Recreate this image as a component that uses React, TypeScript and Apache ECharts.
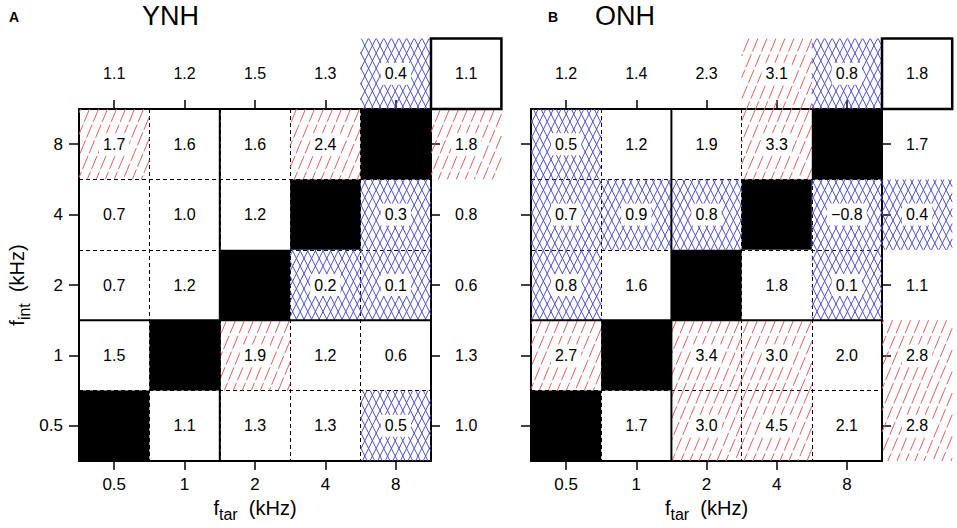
import React, { useEffect, useRef } from "react";
import * as echarts from "echarts";

const FONT = "'Liberation Sans', Arial, Helvetica, sans-serif";

// f_tar (columns, left→right) and f_int (rows, bottom→top) categories in kHz
const xCats = ["0.5", "1", "2", "4", "8"];
const yCats = ["0.5", "1", "2", "4", "8"];

// Values listed row by row from the top row (f_int = 8) down to 0.5; null = diagonal (black cell)
const ynhValues: (number | null)[][] = [
  [1.7, 1.6, 1.6, 2.4, null],
  [0.7, 1.0, 1.2, null, 0.3],
  [0.7, 1.2, null, 0.2, 0.1],
  [1.5, null, 1.9, 1.2, 0.6],
  [null, 1.1, 1.3, 1.3, 0.5],
];
// R = red (increase) hatching, B = blue (decrease) cross-hatching, . = none
const ynhHatch = ["R..R.", "....B", "...BB", "..R..", "....B"];
const ynhTop = [1.1, 1.2, 1.5, 1.3, 0.4];
const ynhTopHatch = "....B";
const ynhRight = [1.8, 0.8, 0.6, 1.3, 1.0];
const ynhRightHatch = "R....";
const ynhCorner = 1.1;

const onhValues: (number | null)[][] = [
  [0.5, 1.2, 1.9, 3.3, null],
  [0.7, 0.9, 0.8, null, -0.8],
  [0.8, 1.6, null, 1.8, 0.1],
  [2.7, null, 3.4, 3.0, 2.0],
  [null, 1.7, 3.0, 4.5, 2.1],
];
const onhHatch = ["B..R.", "BBB.B", "B...B", "R.RR.", "..RR."];
const onhTop = [1.2, 1.4, 2.3, 3.1, 0.8];
const onhTopHatch = "...RB";
const onhRight = [1.7, 0.4, 1.1, 2.8, 2.8];
const onhRightHatch = ".B.RR";
const onhCorner = 1.8;

const codeOf = (c: string) => (c === "R" ? 1 : c === "B" ? 2 : 0);

// item: [xIdx(clamped), yIdx(clamped), realX, realY, value, code]
// code: 0 plain, 1 red hatch, 2 blue cross-hatch, 3 black, 4 boxed corner
function buildData(
  values: (number | null)[][],
  hatch: string[],
  top: number[],
  topHatch: string,
  right: number[],
  rightHatch: string,
  corner: number
) {
  const out: number[][] = [];
  const n = yCats.length;
  for (let r = 0; r < n; r++) {
    const yi = n - 1 - r;
    for (let xi = 0; xi < xCats.length; xi++) {
      const v = values[r][xi];
      if (v === null) out.push([xi, yi, xi, yi, 0, 3]);
      else out.push([xi, yi, xi, yi, v, codeOf(hatch[r][xi])]);
    }
    out.push([4, yi, 5, yi, right[r], codeOf(rightHatch[r])]);
  }
  for (let xi = 0; xi < xCats.length; xi++) {
    out.push([xi, 4, xi, 5, top[xi], codeOf(topHatch[xi])]);
  }
  out.push([4, 4, 5, 5, corner, 4]);
  return out;
}

const RED = "#de5f5f";
const BLUE = "#5252c8";

function hatchLines(
  x0: number, y0: number, x1: number, y1: number,
  k: number, s: number, dir: 1 | -1, color: string, dash?: number[]
) {
  // dir 1: "/" lines, x + y/k = u ; dir -1: "\" lines, x - y/k = u
  const els: any[] = [];
  const us = dir === 1 ? [x0 + y0 / k, x1 + y1 / k] : [x0 - y1 / k, x1 - y0 / k];
  const nStart = Math.ceil(us[0] / s);
  const nEnd = Math.floor(us[1] / s);
  for (let m = nStart; m <= nEnd; m++) {
    const u = m * s;
    let ya: number, yb: number;
    if (dir === 1) {
      ya = Math.max(y0, (u - x1) * k);
      yb = Math.min(y1, (u - x0) * k);
    } else {
      ya = Math.max(y0, (x0 - u) * k);
      yb = Math.min(y1, (x1 - u) * k);
    }
    if (yb - ya < 0.5) continue;
    const xa = dir === 1 ? u - ya / k : u + ya / k;
    const xb = dir === 1 ? u - yb / k : u + yb / k;
    els.push({
      type: "line",
      z2: 1,
      shape: { x1: xa, y1: ya, x2: xb, y2: yb },
      style: { stroke: color, lineWidth: 1, lineDash: dash || null },
    });
  }
  return els;
}

function fmt(v: number) {
  const s = Math.abs(v).toFixed(1);
  return v < 0 ? "\u2212" + s : s;
}

function renderItem(params: any, api: any) {
  const rx = api.value(2);
  const ry = api.value(3);
  const val = api.value(4);
  const code = api.value(5);
  const base = api.coord([0, 0]);
  const size = api.size([1, 1]);
  const w = size[0];
  const h = size[1];
  const cx = base[0] + rx * w;
  const cy = base[1] - ry * h;
  const x0 = cx - w / 2, x1 = cx + w / 2, y0 = cy - h / 2, y1 = cy + h / 2;
  const children: any[] = [];
  if (code === 3) {
    children.push({ type: "rect", z2: 3, shape: { x: x0, y: y0, width: w, height: h }, style: { fill: "#000" } });
  } else if (code === 1) {
    children.push(...hatchLines(x0, y0, x1, y1, 2.4, 9, 1, RED, [14, 3]));
  } else if (code === 2) {
    children.push(...hatchLines(x0, y0, x1, y1, 2, 7.6, 1, BLUE));
    children.push(...hatchLines(x0, y0, x1, y1, 2, 7.6, -1, BLUE));
  } else if (code === 4) {
    children.push({
      type: "rect", z2: 4,
      shape: { x: x0, y: y0, width: w, height: h },
      style: { fill: "#fff", stroke: "#000", lineWidth: 2.5 },
    });
  }
  if (rx === 2 && ry < 5) {
    children.push({ type: "line", z2: 4, shape: { x1: x0, y1: y0, x2: x0, y2: y1 }, style: { stroke: "#000", lineWidth: 2 } });
  }
  if (ry === 2 && rx < 5) {
    children.push({ type: "line", z2: 4, shape: { x1: x0, y1: y1, x2: x1, y2: y1 }, style: { stroke: "#000", lineWidth: 2 } });
  }
  if (code !== 3) {
    const bg = code === 1 || code === 2;
    children.push({
      type: "text",
      z2: 5,
      x: cx,
      y: cy,
      style: {
        text: fmt(val),
        align: "center",
        verticalAlign: "middle",
        fontSize: 16,
        fontFamily: FONT,
        fill: "#000",
        backgroundColor: bg ? "#fff" : "transparent",
        padding: [3, 4, 3, 4],
      },
    });
  }
  return { type: "group", children };
}

const axisNameRich = {
  n: { fontSize: 20, fontFamily: FONT, color: "#000", verticalAlign: "bottom", padding: [0, 0, 5, 0] },
  s: { fontSize: 16, fontFamily: FONT, color: "#000", verticalAlign: "bottom" },
};

function panel(g: number, showYLabels: boolean) {
  const lineStyle = { color: "#000", width: 2 };
  const tick = (len: number) => ({
    show: true,
    alignWithLabel: true,
    interval: 0,
    length: len,
    lineStyle: { color: "#000", width: 1.5 },
  });
  const dashed = { show: true, interval: 0, lineStyle: { color: "#000", width: 1, type: [4, 3] } };
  const xAxes = [
    {
      gridIndex: g,
      type: "category",
      data: xCats,
      position: "bottom",
      axisLine: { show: true, onZero: false, lineStyle },
      axisTick: tick(9),
      axisLabel: { interval: 0, fontSize: 17, color: "#000", margin: 15, fontFamily: FONT },
      splitLine: dashed,
      name: "{n|f}{s|tar}{n|  (kHz)}",
      nameLocation: "middle",
      nameGap: 36,
      nameTextStyle: { rich: axisNameRich },
    },
    {
      gridIndex: g,
      type: "category",
      data: xCats,
      position: "top",
      axisLine: { show: true, onZero: false, lineStyle },
      axisTick: tick(9),
      axisLabel: { show: false },
      splitLine: { show: false },
    },
  ];
  const yAxes = [
    {
      gridIndex: g,
      type: "category",
      data: yCats,
      position: "left",
      axisLine: { show: true, onZero: false, lineStyle },
      axisTick: tick(10),
      axisLabel: { show: showYLabels, interval: 0, fontSize: 17, color: "#000", margin: 16, fontFamily: FONT },
      splitLine: dashed,
      name: showYLabels ? "{n|f}{s|int}{n|  (kHz)}" : "",
      nameLocation: "middle",
      nameRotate: 90,
      nameGap: 47,
      nameTextStyle: { rich: axisNameRich },
    },
    {
      gridIndex: g,
      type: "category",
      data: yCats,
      position: "right",
      axisLine: { show: true, onZero: false, lineStyle },
      axisTick: tick(9),
      axisLabel: { show: false },
      splitLine: { show: false },
    },
  ];
  return { xAxes, yAxes };
}

export default function App() {
  const ref = useRef<HTMLDivElement>(null);
  useEffect(() => {
    if (!ref.current) return;
    const chart = echarts.init(ref.current, undefined, { renderer: "svg" });
    const pA = panel(0, true);
    const pB = panel(1, false);
    const dataA = buildData(ynhValues, ynhHatch, ynhTop, ynhTopHatch, ynhRight, ynhRightHatch, ynhCorner);
    const dataB = buildData(onhValues, onhHatch, onhTop, onhTopHatch, onhRight, onhRightHatch, onhCorner);
    const option: any = {
      animation: false,
      backgroundColor: "#fff",
      textStyle: { fontFamily: FONT },
      grid: [
        { left: 79, top: 109, width: 352, height: 352 },
        { left: 531, top: 109, width: 351, height: 352 },
      ],
      xAxis: [...pA.xAxes, ...pB.xAxes],
      yAxis: [...pA.yAxes, ...pB.yAxes],
      series: [
        {
          type: "custom",
          xAxisIndex: 0,
          yAxisIndex: 0,
          silent: true,
          clip: false,
          encode: { x: 0, y: 1 },
          renderItem,
          data: dataA,
        },
        {
          type: "custom",
          xAxisIndex: 2,
          yAxisIndex: 2,
          silent: true,
          clip: false,
          encode: { x: 0, y: 1 },
          renderItem,
          data: dataB,
        },
      ],
      graphic: [
        { type: "text", left: 9, top: 10, style: { text: "A", fontSize: 14, fontWeight: "bold", fontFamily: FONT, fill: "#000" } },
        { type: "text", left: 142, top: 2, style: { text: "YNH", fontSize: 27, fontFamily: FONT, fill: "#000" } },
        { type: "text", left: 548, top: 10, style: { text: "B", fontSize: 14, fontWeight: "bold", fontFamily: FONT, fill: "#000" } },
        { type: "text", left: 595, top: 2, style: { text: "ONH", fontSize: 27, fontFamily: FONT, fill: "#000" } },
      ],
    };
    chart.setOption(option);
    return () => chart.dispose();
  }, []);
  return (
    <div
      ref={ref}
      style={{ position: "fixed", left: 0, top: 0, width: 957, height: 528, background: "#fff" }}
    />
  );
}
